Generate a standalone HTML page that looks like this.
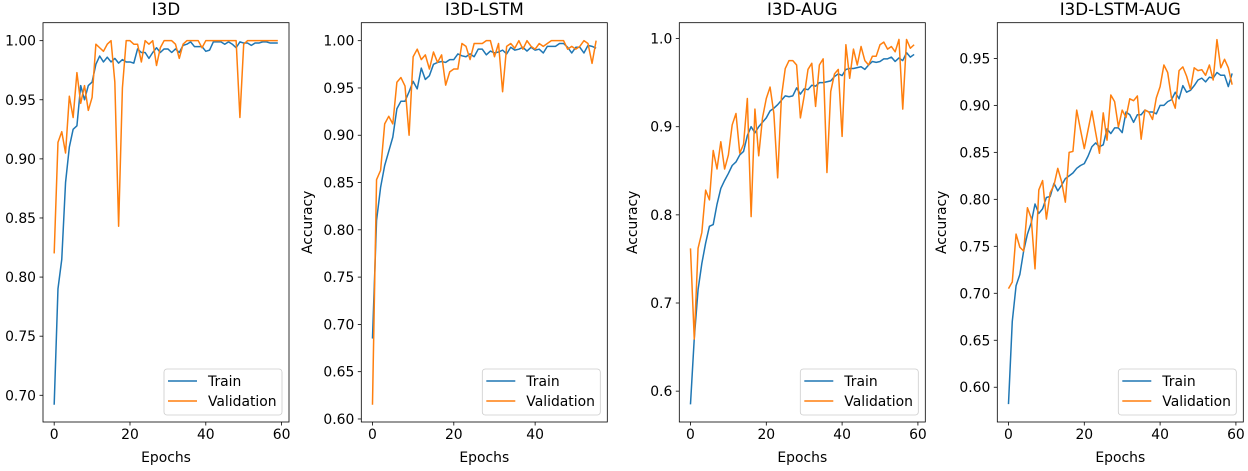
<!DOCTYPE html>
<html><head><meta charset="utf-8"><style>
body{margin:0;background:#fff;}
svg{display:block;font-family:"DejaVu Sans","Liberation Sans",sans-serif;}
</style></head><body>
<svg id="fig" width="1248" height="471"></svg>
<script>
const epochs60 = Array.from({length:60},(_,i)=>i);
const epochs56 = Array.from({length:56},(_,i)=>i);
const i3dTrain=[.692,.79,.815,.88,.91,.925,.928,.962,.95,.962,.965,.98,.987,.982,.986,.982,.985,.981,.984,.982,.982,.981,.993,.99,.99,.985,.99,.994,.99,.993,.993,.99,.993,.99,.996,.997,.999,.995,.995,.995,.991,.992,.999,.999,.999,.997,.999,.997,.994,.999,.998,.998,.996,.998,.998,.999,.999,.998,.998,.998];
const i3dVal=[.82,.914,.923,.905,.953,.935,.973,.947,.962,.941,.952,.997,.994,.991,.997,1,.965,.843,.96,1,1,.997,.997,.982,1,.997,1,.979,.994,1,1,1,.997,.985,.997,1,1,1,1,.994,1,1,1,1,1,1,1,1,1,.935,.997,1,1,1,1,1,1,1,1,1];
const lstmTrain=[.685,.81,.845,.868,.883,.898,.928,.936,.936,.946,.957,.949,.971,.959,.963,.975,.977,.978,.977,.98,.98,.986,.984,.983,.986,.983,.991,.991,.985,.989,.987,.988,.99,.986,.993,.99,.991,.993,.989,.993,.99,.991,.987,.994,.994,.994,.997,.997,.993,.987,.993,.993,.987,.995,.994,.992];
const lstmVal=[.615,.853,.863,.912,.92,.912,.956,.961,.952,.9,.983,.991,.98,.985,.97,.988,.977,.985,.953,.967,.97,.97,.997,.994,.98,.997,.997,.997,1,1,.983,.997,.946,.994,.997,.992,1,.991,1,.994,.991,.997,.994,.997,1,1,1,1,.991,.994,.991,.994,1,.997,.976,1];
const augTrain=[.585,.66,.715,.745,.768,.787,.789,.812,.83,.839,.847,.856,.86,.868,.872,.89,.9,.893,.9,.905,.91,.918,.921,.925,.93,.935,.934,.935,.944,.937,.943,.942,.947,.946,.95,.95,.951,.952,.957,.96,.958,.965,.966,.966,.967,.968,.965,.97,.974,.973,.974,.977,.977,.979,.974,.978,.975,.984,.979,.982];
const augVal=[.762,.659,.762,.78,.828,.817,.873,.852,.883,.852,.868,.902,.915,.87,.88,.932,.798,.92,.867,.91,.932,.945,.915,.842,.934,.966,.975,.975,.97,.91,.935,.965,.972,.923,.97,.977,.848,.94,.96,.965,.889,.993,.955,.988,.97,.991,.975,.97,.98,.98,.993,.996,.988,.991,.985,.999,.92,.999,.989,.993];
const lstmAugTrain=[.582,.67,.708,.72,.745,.763,.775,.795,.785,.79,.802,.803,.817,.809,.815,.822,.825,.828,.833,.836,.838,.846,.856,.86,.856,.858,.875,.87,.876,.876,.871,.893,.89,.882,.89,.89,.895,.893,.893,.891,.9,.9,.904,.906,.914,.907,.921,.914,.916,.921,.927,.929,.925,.93,.929,.935,.932,.932,.92,.934];
const lstmAugVal=[.705,.712,.763,.749,.745,.791,.78,.726,.81,.82,.779,.807,.815,.833,.819,.797,.85,.851,.895,.874,.854,.874,.894,.871,.849,.892,.863,.911,.904,.877,.895,.887,.907,.905,.91,.864,.895,.893,.885,.908,.92,.943,.935,.908,.897,.937,.941,.931,.917,.94,.937,.938,.932,.943,.927,.97,.94,.949,.94,.922];
const xTicks=[0,20,40,60];
const yTicks1=[0.70,0.75,0.80,0.85,0.90,0.95,1.00];
const yTicks2=[0.60,0.65,0.70,0.75,0.80,0.85,0.90,0.95,1.00];
const yTicks3=[0.6,0.7,0.8,0.9,1.0];
const yTicks4=[0.60,0.65,0.70,0.75,0.80,0.85,0.90,0.95];

const NS="http://www.w3.org/2000/svg";
const fig=document.getElementById('fig');
function mk(tag,attrs,parent){const e=document.createElementNS(NS,tag);for(const k in attrs)e.setAttribute(k,attrs[k]);parent.appendChild(e);return e;}

function panel(o){
  const g=mk('g',{},fig);
  
  
  const L=o.L,R=o.R,T=22.7,B=422;
  const n=o.x.length-1, xm=n*0.05;
  const sx=v=>L+(v+xm)/(n+2*xm)*(R-L);
  const sy=v=>B-(v-o.y0)/(o.y1-o.y0)*(B-T);
  const cols=['#1f77b4','#ff7f0e'];
  [o.train,o.val].forEach((s,k)=>{
    const p=mk('polyline',{points:s.map((v,i)=>sx(o.x[i]).toFixed(2)+','+sy(v).toFixed(2)).join(' '),fill:'none',stroke:cols[k],'stroke-width':1.5,'stroke-linejoin':'round'},g);
    
    
  });
  const fr=mk('rect',{x:L,y:T,width:R-L,height:B-T,fill:'none',stroke:'#000','stroke-width':0.8},g);
  
  
  xTicks.forEach(t=>{
    const x=sx(t);
    if(x<L-0.5||x>R+0.5) return;
    mk('line',{x1:x,x2:x,y1:B,y2:B+3.5,stroke:'#000','stroke-width':0.8},g);
    const tx=mk('text',{x:x,y:B+17,'font-size':13.9,'text-anchor':'middle',fill:'#000'},g);
    tx.textContent=t;
    
    
  });
  o.yt.forEach(t=>{
    const y=sy(t);
    mk('line',{x1:L,x2:L-3.5,y1:y,y2:y,stroke:'#000','stroke-width':0.8},g);
    const tx=mk('text',{x:L-7,y:y+5,'font-size':13.9,'text-anchor':'end',fill:'#000'},g);
    tx.textContent=t.toFixed(o.dec);
    
    
  });
  const ti=mk('text',{x:(L+R)/2,y:15,'font-size':16.7,'text-anchor':'middle',fill:'#000'},g);
  ti.textContent=o.title;
  
  
  const xl=mk('text',{x:(L+R)/2,y:462,'font-size':13.9,'text-anchor':'middle',fill:'#000'},g);
  xl.textContent='Epochs';
  
  
  if(o.ylab){
    const yl=mk('text',{x:0,y:0,'font-size':13.9,'text-anchor':'middle',fill:'#000',transform:`translate(${o.ylab},${(T+B)/2}) rotate(-90)`},g);
    yl.textContent='Accuracy';
    
    
  }
  const lg=mk('g',{},g);
  
  
  const lw=118, lx=R-7-lw, ly=369;
  mk('rect',{x:lx,y:ly,width:lw,height:46,rx:3,fill:'#fff','fill-opacity':0.8,stroke:'#ccc','stroke-width':0.8},lg);
  ['Train','Validation'].forEach((s,k)=>{
    const yy=ly+12+k*20;
    mk('line',{x1:lx+4,x2:lx+33,y1:yy,y2:yy,stroke:cols[k],'stroke-width':1.5},lg);
    const t=mk('text',{x:lx+44,y:yy+5,'font-size':13.9,fill:'#000'},lg);
    t.textContent=s;
    
    
  });
}
panel({name:'i3d-panel',title:'I3D',L:43,R:289,x:epochs60,train:i3dTrain,val:i3dVal,y0:0.6774,y1:1.0152,yt:yTicks1,dec:2});
panel({name:'i3d-lstm-panel',title:'I3D-LSTM',L:361.3,R:607.3,x:epochs56,train:lstmTrain,val:lstmVal,y0:0.5968,y1:1.019,yt:yTicks2,dec:2,ylab:312});
panel({name:'i3d-aug-panel',title:'I3D-AUG',L:679.3,R:925.3,x:epochs60,train:augTrain,val:augVal,y0:0.565,y1:1.018,yt:yTicks3,dec:1,ylab:637});
panel({name:'i3d-lstm-aug-panel',title:'I3D-LSTM-AUG',L:997.3,R:1243.3,x:epochs60,train:lstmAugTrain,val:lstmAugVal,y0:0.563,y1:0.988,yt:yTicks4,dec:2,ylab:946});
</script>
</body></html>
